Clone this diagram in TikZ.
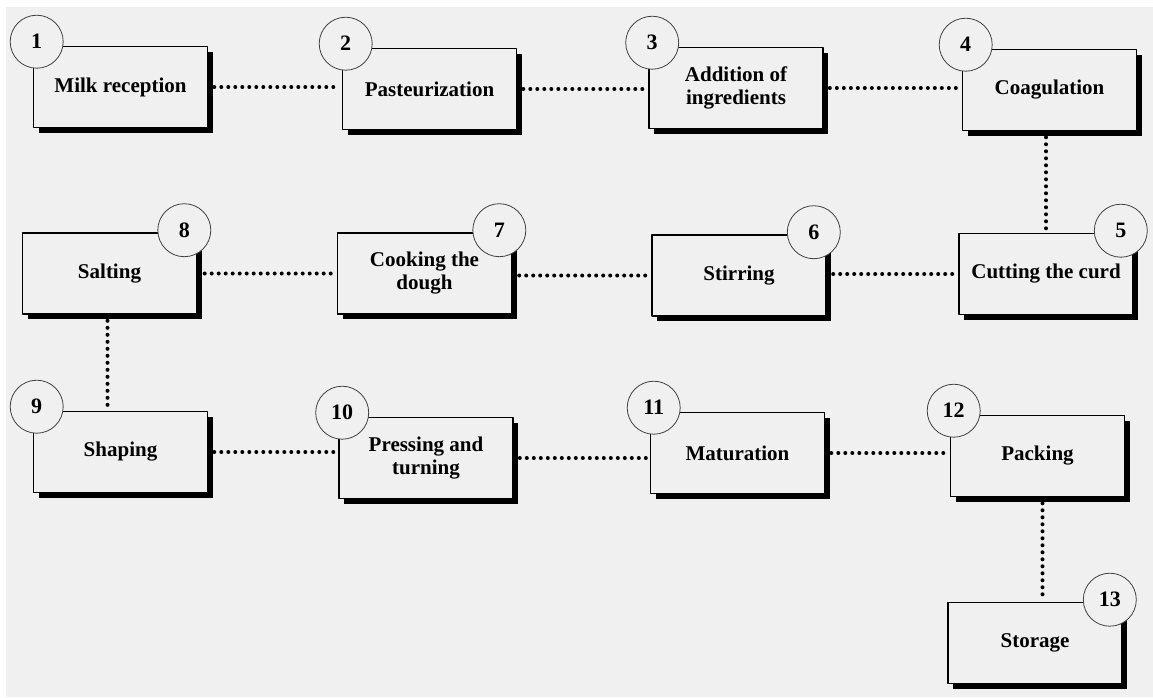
\documentclass[tikz,border=0pt]{standalone}
\usepackage{fontspec}
\setmainfont{Liberation Serif}
\usetikzlibrary{shadows}
\definecolor{bgray}{RGB}{240,240,240}
\tikzset{
  stage/.style={draw=black, line width=1.6pt, fill=bgray, minimum width=174pt, minimum height=81pt,
    align=center, inner sep=2pt, font=\fontsize{21}{23}\selectfont\bfseries,
    drop shadow={shadow xshift=5pt, shadow yshift=-5pt, fill=black, opacity=1}},
  num/.style={circle, draw=black!75, line width=0.8pt, fill=bgray, minimum size=53pt, inner sep=0pt,
    font=\fontsize{22}{24}\selectfont\bfseries},
  link/.style={line width=4pt, line cap=round, dash pattern=on 0pt off 7pt, shorten <=6pt, shorten >=3pt}
}
\begin{document}
\begin{tikzpicture}[x=1pt, y=-1pt, line join=round]
  \useasboundingbox (0,0) rectangle (1153,697);
  \fill[white] (0,0) rectangle (1153,697);
  \fill[bgray] (6,7) rectangle (1153,697);
  \path
  (120.5,87) coordinate (P1)
  (429.5,89) coordinate (P2)
  (736,88) coordinate (P3)
  (1049.5,90) coordinate (P4)
  (1046,274) coordinate (P5)
  (739,275.5) coordinate (P6)
  (424.5,273.5) coordinate (P7)
  (109.5,273.5) coordinate (P8)
  (120.5,452) coordinate (P9)
  (426,458) coordinate (P10)
  (737.5,453) coordinate (P11)
  (1037.5,456) coordinate (P12)
  (1035,643) coordinate (P13)
  ;
  % stages
  \foreach \n/\t in {1/Milk reception, 2/Pasteurization, 3/{Addition of\\ingredients}, 4/Coagulation,
    5/Cutting the curd, 6/Stirring, 7/{Cooking the\\dough}, 8/Salting, 9/Shaping,
    10/{Pressing and\\turning}, 11/Maturation, 12/Packing, 13/Storage}
    \node[stage] (s\n) at (P\n) {\t};
  % dotted links
  \foreach \a/\b in {1/2,2/3,3/4,9/10,10/11,11/12}
    \draw[link] (s\a.east) -- (s\a.east -| s\b.west);
  \foreach \a/\b in {5/6,6/7,7/8}
    \draw[link] (s\a.west) -- (s\a.west -| s\b.east);
  \draw[link] (s5.north |- s4.south) -- (s5.north);
  \draw[link] ([xshift=-2pt]s8.south) -- ([xshift=-2pt]s8.south |- s9.north);
  \draw[link] ([xshift=5pt]s12.south) -- ([xshift=5pt]s12.south |- s13.north);
  % step numbers
  \foreach \n in {1,2,3,4,9,10,11,12}
    \node[num] (c\n) at ([shift={(4,-4)}]s\n.north west) {\n};
  \foreach \n in {5,6,7,8,13}
    \node[num] (c\n) at ([shift={(-13,-2)}]s\n.north east) {\n};
\end{tikzpicture}
\end{document}
